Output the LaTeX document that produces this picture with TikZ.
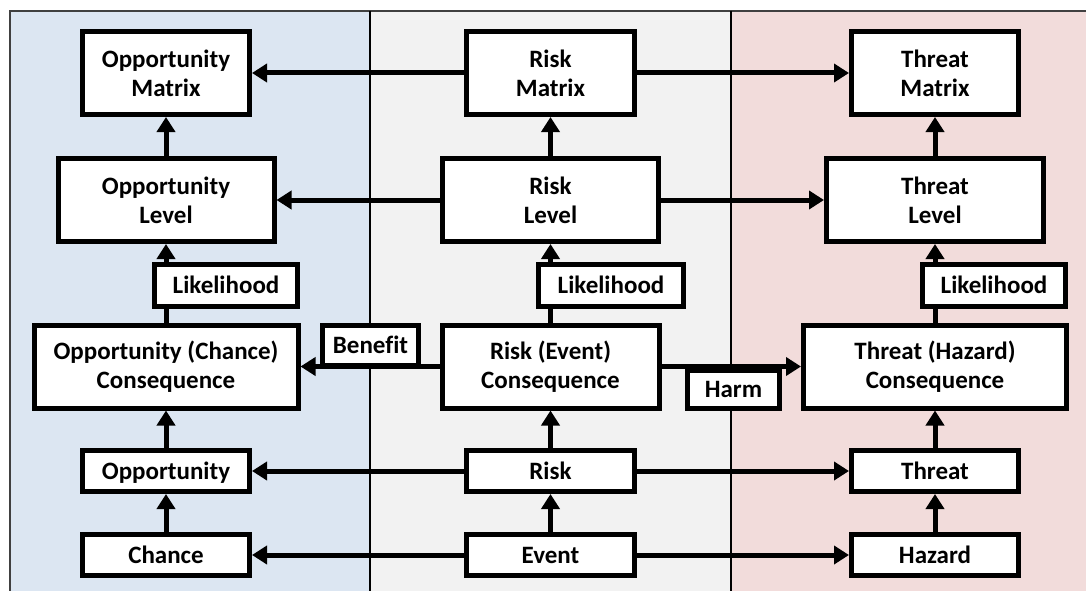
\documentclass[tikz,border=0pt]{standalone}
\usepackage{fontspec}
\setmainfont{Carlito}[Ligatures=NoCommon]
\usetikzlibrary{arrows.meta}
\definecolor{oppblue}{HTML}{DCE6F2}
\definecolor{riskgray}{HTML}{F2F2F2}
\definecolor{threatpink}{HTML}{F2DCDB}

\begin{document}
\begin{tikzpicture}[x=1pt,y=-1pt,>={Triangle[length=15pt,width=18pt]},
    box/.style={draw,line width=5pt,fill=white,align=center,inner sep=0pt,
        font=\fontsize{25}{29}\selectfont\bfseries},
    big/.style={box,minimum width=#1,minimum height=83pt},
    small/.style={box,minimum width=#1,minimum height=41pt,
        text height=16pt,text depth=0pt},
    arr/.style={->,line width=5pt}]
    \useasboundingbox (0,0) rectangle (1086,591);
    % panels
    \fill[oppblue] (10,11) rectangle (370,591);
    \fill[riskgray] (370,11) rectangle (731,591);
    \fill[threatpink] (731,11) rectangle (1086,591);
    \draw[black!75,line width=1.5pt] (10,591) -- (10,11) -- (1086,11);
    \draw[line width=1.5pt] (370,11) -- (370,591) (731,11) -- (731,591);
    % opportunity side
    \node[big=167pt] (om) at (166,73) {Opportunity\\Matrix};
    \node[big=216pt] (ol) at (166,200) {Opportunity\\Level};
    \node[big=264pt] (oc) at (166,366.5) {Opportunity (Chance)\\Consequence};
    \node[small=167pt] (op) at (166,471) {Opportunity};
    \node[small=167pt] (ch) at (166,555) {Chance};
    % risk
    \node[big=168pt] (rm) at (550.5,73) {Risk\\Matrix};
    \node[big=216pt] (rl) at (550.5,200) {Risk\\Level};
    \node[big=217pt] (rc) at (550.5,366.5) {Risk (Event)\\Consequence};
    \node[small=168pt] (rk) at (550.5,471) {Risk};
    \node[small=168pt] (ev) at (550.5,555) {Event};
    % threat side
    \node[big=167pt] (tm) at (935,73) {Threat\\Matrix};
    \node[big=217pt] (tl) at (935,200) {Threat\\Level};
    \node[big=263pt] (tc) at (935,366.5) {Threat (Hazard)\\Consequence};
    \node[small=167pt] (th) at (935,471) {Threat};
    \node[small=167pt] (hz) at (935,555) {Hazard};
    % connectors
    \foreach \a/\b/\c in {rm/om/tm,rl/ol/tl,rc/oc/tc,rk/op/th,ev/ch/hz}{
        \draw[arr] (\a) -- (\b);
        \draw[arr] (\a) -- (\c);
    }
    \foreach \a/\b in {ch/op,op/oc,oc/ol,ol/om,ev/rk,rk/rc,rc/rl,rl/rm,hz/th,th/tc,tc/tl,tl/tm}
        \draw[arr] (\a) -- (\b);
    % labels on the connectors
    \node[small=143pt,minimum height=42pt] (lo) at (226,285) {Likelihood};
    \node[small=145pt,minimum height=42pt] (lr) at (611,285) {Likelihood};
    \node[small=143pt,minimum height=42pt] (lt) at (994,285) {Likelihood};
    \node[small=96pt,minimum height=40pt] (ben) at (370.5,345.5) {Benefit};
    \node[small=92pt,minimum height=38pt] (harm) at (733.5,389.5) {Harm};
\end{tikzpicture}
\end{document}
